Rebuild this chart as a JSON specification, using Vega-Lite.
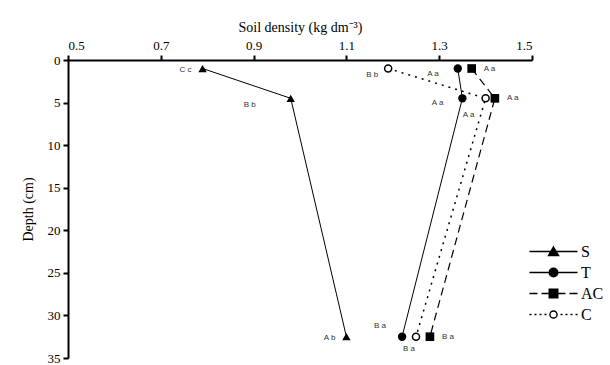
{
  "$schema": "https://vega.github.io/schema/vega-lite/v6.json",
  "width": 464,
  "height": 298,
  "autosize": "none",
  "padding": {"left": 68, "top": 60, "right": 78, "bottom": 7},
  "background": "white",
  "config": {
    "view": {"stroke": null},
    "axis": {"grid": false, "domainColor": "black", "domainWidth": 2, "tickColor": "black", "tickWidth": 2, "tickSize": 5, "labelFont": "Liberation Serif", "labelFontSize": 13, "labelColor": "black", "titleFont": "Liberation Serif", "titleFontSize": 14, "titleFontWeight": "normal", "titleColor": "black"}
  },
  "data": {
    "values": [
      {"series": "S", "density": 0.79, "depth": 1, "label": "C c"},
      {"series": "S", "density": 0.98, "depth": 4.5, "label": "B b"},
      {"series": "S", "density": 1.10, "depth": 32.5, "label": "A b"},
      {"series": "T", "density": 1.34, "depth": 1, "label": "A a"},
      {"series": "T", "density": 1.35, "depth": 4.5, "label": "A a"},
      {"series": "T", "density": 1.22, "depth": 32.5, "label": "B a"},
      {"series": "AC", "density": 1.37, "depth": 1, "label": "A a"},
      {"series": "AC", "density": 1.42, "depth": 4.5, "label": "A a"},
      {"series": "AC", "density": 1.28, "depth": 32.5, "label": "B a"},
      {"series": "C", "density": 1.19, "depth": 1, "label": "B b"},
      {"series": "C", "density": 1.40, "depth": 4.5, "label": "A a"},
      {"series": "C", "density": 1.25, "depth": 32.5, "label": "B a"}
    ]
  },
  "encoding": {
    "x": {"field": "density", "type": "quantitative", "scale": {"domain": [0.5, 1.5], "nice": false, "zero": false},
      "axis": {"orient": "top", "values": [0.5, 0.7, 0.9, 1.1, 1.3, 1.5], "format": ".1f", "title": "Soil density (kg dm⁻³)", "labelPadding": 3, "titlePadding": 5}},
    "y": {"field": "depth", "type": "quantitative", "scale": {"domain": [0, 35], "reverse": true, "nice": false, "zero": false},
      "axis": {"values": [0, 5, 10, 15, 20, 25, 30, 35], "title": "Depth (cm)", "labelPadding": 3, "titlePadding": 12}}
  },
  "layer": [
    {
      "transform": [{"filter": "datum.series === 'S' || datum.series === 'T'"}],
      "mark": {"type": "line", "color": "black", "strokeWidth": 1, "clip": false},
      "encoding": {"detail": {"field": "series"}, "order": {"field": "depth"}}
    },
    {
      "transform": [{"filter": "datum.series === 'AC'"}],
      "mark": {"type": "line", "color": "black", "strokeWidth": 1.2, "strokeDash": [8, 5], "clip": false},
      "encoding": {"order": {"field": "depth"}}
    },
    {
      "transform": [{"filter": "datum.series === 'C'"}],
      "mark": {"type": "line", "color": "black", "strokeWidth": 1.5, "strokeDash": [2, 5], "clip": false},
      "encoding": {"order": {"field": "depth"}}
    },
    {
      "transform": [{"filter": "datum.series === 'S'"}],
      "mark": {"type": "point", "shape": "triangle-up", "filled": true, "color": "black", "size": 70, "opacity": 1, "clip": false}
    },
    {
      "transform": [{"filter": "datum.series === 'T'"}],
      "mark": {"type": "point", "shape": "circle", "filled": true, "color": "black", "size": 70, "opacity": 1, "clip": false}
    },
    {
      "transform": [{"filter": "datum.series === 'AC'"}],
      "mark": {"type": "point", "shape": "square", "filled": true, "color": "black", "size": 75, "opacity": 1, "clip": false}
    },
    {
      "transform": [{"filter": "datum.series === 'C'"}],
      "mark": {"type": "point", "shape": "circle", "filled": true, "fill": "white", "stroke": "black", "strokeWidth": 1.5, "size": 50, "opacity": 1, "clip": false}
    },
    {
      "transform": [{"filter": "false"}],
      "mark": {"type": "point", "filled": false, "color": "black", "strokeWidth": 1.4, "opacity": 1, "clip": false},
      "encoding": {
        "shape": {"field": "series", "type": "nominal",
          "scale": {"domain": ["S", "T", "AC", "C"], "range": [
            "M-2.29,0H2.29M0,-0.43L0.48,0.38L-0.48,0.38Z",
            "M-2.29,0H2.29M0.41,0A0.41,0.41,0,1,1,-0.41,0A0.41,0.41,0,1,1,0.41,0Z",
            "M-2.29,0H-1.52M-1.14,0H-0.48M0.48,0H1.14M1.52,0H2.29M-0.41,-0.41H0.41V0.41H-0.41Z",
            "M-2.29,0H-2.1M-1.81,0H-1.62M-1.33,0H-1.14M-0.86,0H-0.67M0.67,0H0.86M1.14,0H1.33M1.62,0H1.81M2.1,0H2.29M0.34,0A0.34,0.34,0,1,1,-0.34,0A0.34,0.34,0,1,1,0.34,0Z"
          ]},
          "legend": {"title": null, "orient": "none", "legendX": 474, "legendY": 180, "padding": 0, "symbolSize": 441, "symbolStrokeWidth": 1.4, "labelFont": "Liberation Serif", "labelFontSize": 16, "labelColor": "black", "rowPadding": 1, "labelOffset": 16}
        },
        "fill": {"field": "series", "type": "nominal",
          "scale": {"domain": ["S", "T", "AC", "C"], "range": ["black", "black", "black", "white"]},
          "legend": {"title": null, "orient": "none", "legendX": 474, "legendY": 180, "padding": 0, "symbolSize": 441, "symbolStrokeWidth": 1.4, "labelFont": "Liberation Serif", "labelFontSize": 16, "labelColor": "black", "rowPadding": 1, "labelOffset": 16}
        }
      }
    },
    {
      "transform": [{"filter": "datum.series === 'S' && datum.depth !== 4.5"}],
      "mark": {"type": "text", "align": "right", "baseline": "middle", "dx": -11, "dy": 1, "font": "Liberation Sans", "fontSize": 8, "color": "#333"},
      "encoding": {"text": {"field": "label"}}
    },
    {
      "transform": [{"filter": "datum.series === 'S' && datum.depth === 4.5"}],
      "mark": {"type": "text", "align": "right", "baseline": "middle", "dx": -35, "dy": 7, "font": "Liberation Sans", "fontSize": 8, "color": "#333"},
      "encoding": {"text": {"field": "label"}}
    },
    {
      "transform": [{"filter": "datum.series === 'T' && datum.depth < 10"}],
      "mark": {"type": "text", "align": "right", "baseline": "middle", "dx": -19, "dy": 5, "font": "Liberation Sans", "fontSize": 8, "color": "#333"},
      "encoding": {"text": {"field": "label"}}
    },
    {
      "transform": [{"filter": "datum.series === 'C' && datum.depth === 1"}],
      "mark": {"type": "text", "align": "right", "baseline": "middle", "dx": -10, "dy": 6, "font": "Liberation Sans", "fontSize": 8, "color": "#333"},
      "encoding": {"text": {"field": "label"}}
    },
    {
      "transform": [{"filter": "datum.series === 'T' && datum.depth > 10"}],
      "mark": {"type": "text", "align": "right", "baseline": "middle", "dx": -16, "dy": -11, "font": "Liberation Sans", "fontSize": 8, "color": "#333"},
      "encoding": {"text": {"field": "label"}}
    },
    {
      "transform": [{"filter": "datum.series === 'C' && datum.depth === 4.5"}],
      "mark": {"type": "text", "align": "center", "baseline": "middle", "dx": -17, "dy": 17, "font": "Liberation Sans", "fontSize": 8, "color": "#333"},
      "encoding": {"text": {"field": "label"}}
    },
    {
      "transform": [{"filter": "datum.series === 'C' && datum.depth > 10"}],
      "mark": {"type": "text", "align": "center", "baseline": "middle", "dx": -7, "dy": 12, "font": "Liberation Sans", "fontSize": 8, "color": "#333"},
      "encoding": {"text": {"field": "label"}}
    },
    {
      "transform": [{"filter": "datum.series === 'AC'"}],
      "mark": {"type": "text", "align": "left", "baseline": "middle", "dx": 12, "dy": 0, "font": "Liberation Sans", "fontSize": 8, "color": "#333"},
      "encoding": {"text": {"field": "label"}}
    }
  ]
}
